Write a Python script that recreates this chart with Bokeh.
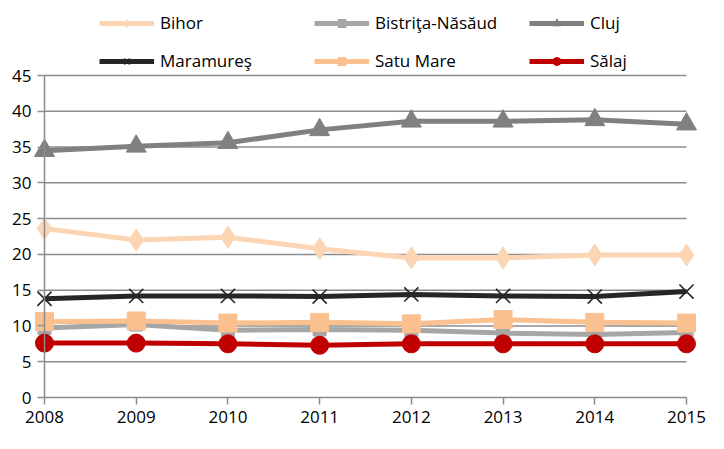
from bokeh.plotting import figure
from bokeh.models import Range1d, Legend, LegendItem, FixedTicker
from bokeh.embed import file_html
from bokeh.resources import INLINE

years = [2008, 2009, 2010, 2011, 2012, 2013, 2014, 2015]
bihor = [23.6, 22.0, 22.4, 20.8, 19.5, 19.5, 19.9, 19.9]
bistrita = [9.7, 10.2, 9.4, 9.5, 9.4, 9.0, 8.8, 9.1]
cluj = [34.5, 35.1, 35.6, 37.4, 38.6, 38.6, 38.8, 38.2]
maramures = [13.8, 14.2, 14.2, 14.1, 14.4, 14.2, 14.1, 14.8]
satu_mare = [10.6, 10.7, 10.4, 10.5, 10.3, 10.9, 10.5, 10.4]
salaj = [7.6, 7.6, 7.5, 7.3, 7.5, 7.5, 7.5, 7.5]
y_ticks = [0, 5, 10, 15, 20, 25, 30, 35, 40, 45]

FONT = "Open Sans"
GRID = "#8c8c8c"

W, H = 708, 433
# pixel layout of the plotting area inside the figure
AX_L, AX_R, AX_T, AX_B = 44, 686, 75, 397
ppx = (AX_R - AX_L) / (years[-1] - years[0])
ppy = (AX_B - AX_T) / (y_ticks[-1] - y_ticks[0])
x_range = Range1d(years[0] - AX_L / ppx, years[-1] + (W - AX_R) / ppx)
y_range = Range1d(y_ticks[0] - (H - AX_B) / ppy, y_ticks[-1] + AX_T / ppy)

p = figure(width=W, height=H, output_backend="svg", toolbar_location=None,
           x_range=x_range, y_range=y_range,
           min_border_left=0, min_border_right=0, min_border_top=0, min_border_bottom=0)
p.outline_line_color = None
p.xgrid.visible = False
p.ygrid.visible = False

# grid lines spanning the category range
p.multi_line(xs=[[years[0], years[-1]] for _ in y_ticks], ys=[[t, t] for t in y_ticks],
             line_color=GRID, line_width=1.5)

series = [
    ("Bihor", bihor, "#fcd5b5", "diamond", 22),
    ("Bistriţa-Năsăud", bistrita, "#a6a6a6", "square", 13),
    ("Cluj", cluj, "#808080", "triangle", 20),
    ("Maramureş", maramures, "#262626", "x", 20),
    ("Satu Mare", satu_mare, "#fac090", "square", 18),
    ("Sălaj", salaj, "#c00000", "circle", 18),
]

items = []
for name, vals, col, mk, sz in series:
    r1 = p.line(years, vals, line_color=col, line_width=5)
    if mk == "x":
        r2 = p.scatter(years, vals, marker="x", size=sz, line_color=col, line_width=1.6)
    else:
        r2 = p.scatter(years, vals, marker=mk, size=sz, fill_color=col, line_color=col)
    items.append(LegendItem(label=name, renderers=[r1, r2]))

legend = Legend(items=items, ncols=3, orientation="horizontal",
                glyph_width=55, glyph_height=20, label_height=20, label_width=139,
                label_standoff=6, spacing=15, padding=0, margin=0,
                label_text_font=FONT, label_text_font_size="17px", label_text_color="#000000",
                border_line_color=None, background_fill_alpha=0,
                location=(99, 361))
p.add_layout(legend, "center")

# axes
p.yaxis.fixed_location = years[0]
p.xaxis.fixed_location = y_ticks[0]
p.yaxis.bounds = (y_ticks[0], y_ticks[-1])
p.xaxis.bounds = (years[0], years[-1])
p.yaxis.ticker = FixedTicker(ticks=y_ticks)
p.xaxis.ticker = FixedTicker(ticks=years)
for ax in (p.xaxis[0], p.yaxis[0]):
    ax.axis_line_color = GRID
    ax.axis_line_width = 1.5
    ax.major_tick_line_color = GRID
    ax.major_tick_line_width = 1.5
    ax.major_tick_out = 7
    ax.major_tick_in = 0
    ax.minor_tick_line_color = None
    ax.major_label_text_font = FONT
    ax.major_label_text_font_size = "17px"
    ax.major_label_text_color = "#000000"
p.xaxis.axis_line_color = None
p.xaxis.major_label_standoff = 6
p.yaxis.major_label_standoff = 6

open("out.html", "w").write(file_html(p, INLINE))
